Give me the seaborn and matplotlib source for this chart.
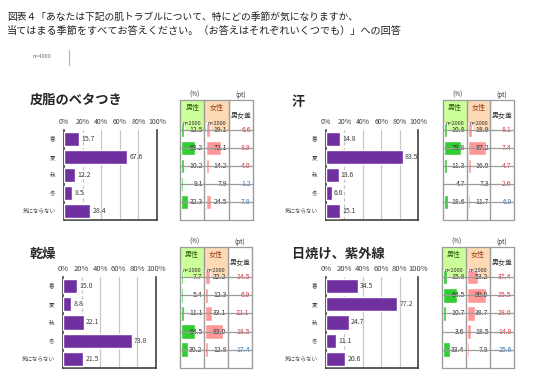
import matplotlib
matplotlib.use("Agg")
import matplotlib.pyplot as plt
from matplotlib.patches import Rectangle
import seaborn as sns

# データ
seasons = ["春", "夏", "秋", "冬", "気にならない"]
tick_values = [0, 20, 40, 60, 80, 100]
tick_labels = ["0%", "20%", "40%", "60%", "80%", "100%"]

sebum_all = [15.7, 67.6, 12.2, 8.5, 28.4]
sebum_men = [12.5, 63.2, 10.2, 9.1, 32.3]
sebum_women = [19.1, 72.1, 14.2, 7.9, 24.5]
sebum_diff = [6.6, 8.9, 4.0, 1.2, 7.8]

sweat_all = [14.8, 83.5, 13.6, 6.0, 15.1]
sweat_men = [10.8, 79.8, 11.3, 4.7, 18.6]
sweat_women = [18.9, 87.2, 16.0, 7.3, 11.7]
sweat_diff = [8.1, 7.4, 4.7, 2.6, 6.9]

dry_all = [15.0, 8.8, 22.1, 73.8, 21.5]
dry_men = [7.7, 5.4, 11.1, 64.5, 30.2]
dry_women = [22.2, 12.3, 33.1, 83.0, 12.8]
dry_diff = [14.5, 6.9, 22.1, 18.5, 17.4]

sun_all = [34.5, 77.2, 24.7, 11.1, 20.6]
sun_men = [15.8, 64.5, 10.7, 3.6, 33.4]
sun_women = [53.2, 90.0, 38.7, 18.5, 7.8]
sun_diff = [37.4, 25.5, 28.0, 14.9, 25.6]

n_men = "n=2000"
n_women = "n=2000"

W, H = 536, 386
PURPLE = "#7030a0"
GREEN = "#33cc33"
PINK = "#ff9999"
RED = "#e0303a"
BLUE = "#2e75b6"
GRID = "#9c9c9c"

sns.set_style("white")
plt.rcParams["font.family"] = ["Noto Sans CJK JP", "DejaVu Sans"]


def px_rect(x0, y0, x1, y1):
    return [x0 / W, 1 - y1 / H, (x1 - x0) / W, (y1 - y0) / H]


def draw_bars(fig, box, title, title_xy, values, tick_size):
    x0, y0, x1, y1 = box
    ax = fig.add_axes(px_rect(x0, y0, x1, y1))
    sns.barplot(x=values, y=seasons, orient="y", color=PURPLE, saturation=1,
                width=0.78, ax=ax, zorder=3)
    ax.set_xlim(0, 100)
    ax.set_ylim(4.5, -0.5)
    for g in [40, 60, 80]:
        ax.axvline(g, color="#c8c8c8", lw=0.9, zorder=1)
    ax.axvline(20, color="#c8c8c8", lw=0.9, ls=(0, (3, 2)), zorder=1)
    for i, v in enumerate(values):
        ax.text(v + 2.5, i, f"{v:.1f}", va="center", ha="left",
                fontsize=5, color="#404040", zorder=4)
    ax.xaxis.tick_top()
    ax.set_xticks(tick_values)
    ax.set_xticklabels(tick_labels, fontsize=tick_size, color="#404040")
    ax.tick_params(axis="x", length=0, pad=3)
    ax.tick_params(axis="y", length=0, labelsize=4, pad=6, colors="#404040")
    ax.set_xlabel("")
    ax.set_ylabel("")
    ax.spines["top"].set_visible(False)
    for s in ["left", "right", "bottom"]:
        ax.spines[s].set_color("#404040")
        ax.spines[s].set_linewidth(1.2)
    fig.text(title_xy[0] / W, 1 - title_xy[1] / H, title, fontsize=9.5,
             fontweight="bold", va="center", ha="left")


def draw_table(fig, box, header_top, men, women, diff):
    x0, y0, x1, y1 = box
    row_h = (y1 - y0) / 5
    hdr = (y0 - header_top) / row_h
    ax = fig.add_axes(px_rect(x0, header_top, x1, y1))
    ax.set_xlim(0, 3)
    ax.set_ylim(5, -hdr)
    ax.axis("off")
    ax.add_patch(Rectangle((0, -hdr), 1, hdr, color="#ccff99", zorder=0))
    ax.add_patch(Rectangle((1, -hdr), 1, hdr, color="#fdd9b5", zorder=0))
    ax.barh(range(5), [m / 100 * 0.88 for m in men], left=0.06,
            height=0.82, color=GREEN, zorder=2)
    ax.barh(range(5), [w / 100 * 0.88 for w in women], left=1.05,
            height=0.82, color=PINK, zorder=2)
    for i in range(5):
        ax.text(0.94, i, f"{men[i]:.1f}", ha="right", va="center",
                fontsize=5, color="#303030", zorder=3)
        ax.text(1.94, i, f"{women[i]:.1f}", ha="right", va="center",
                fontsize=5, color="#303030", zorder=3)
        c = RED if women[i] >= men[i] else BLUE
        ax.text(2.9, i, f"{diff[i]:.1f}", ha="right", va="center",
                fontsize=5, color=c, zorder=3)
    for yy in range(0, 6):
        ax.plot([0, 3], [yy, yy], color=GRID, lw=0.9, zorder=4, clip_on=False)
    ax.plot([0, 3], [-hdr, -hdr], color=GRID, lw=0.9, zorder=4, clip_on=False)
    for xx in range(0, 4):
        ax.plot([xx, xx], [-hdr, 5], color=GRID, lw=1.0, zorder=4, clip_on=False)
    ax.text(0.5, -hdr + 0.42, "男性", ha="center", va="center", fontsize=5,
            color="#2f5f10")
    ax.text(0.5, -0.38, n_men, ha="center", va="center", fontsize=4,
            color="#303030")
    ax.text(1.5, -hdr + 0.42, "女性", ha="center", va="center", fontsize=5,
            color="#9a3b1a")
    ax.text(1.5, -0.38, n_women, ha="center", va="center", fontsize=4,
            color="#303030")
    ax.text(2.5, -hdr / 2, "男女差", ha="center", va="center", fontsize=5,
            color="#303030")
    ax.text(0.6, -hdr - 0.3, "(%)", ha="center", va="center", fontsize=4.5,
            color="#303030", clip_on=False)
    ax.text(2.5, -hdr - 0.3, "(pt)", ha="center", va="center", fontsize=4.5,
            color="#303030", clip_on=False)


fig = plt.figure(figsize=(W / 100, H / 100), dpi=100)

fig.text(7 / W, 1 - 17 / H,
         "図表４「あなたは下記の肌トラブルについて、特にどの季節が気になりますか、",
         fontsize=7.0, va="center", ha="left", color="#202020")
fig.text(7 / W, 1 - 31 / H,
         "当てはまる季節をすべてお答えください。（お答えはそれぞれいくつでも）」への回答",
         fontsize=7.3, va="center", ha="left", color="#202020")
fig.text(42 / W, 1 - 57 / H, "n=4000", fontsize=4, va="center", ha="center",
         color="#707070")
fig.add_artist(plt.Line2D([69 / W, 69 / W], [1 - 50 / H, 1 - 65 / H],
                          color="#b0b0b0", lw=0.8))

draw_bars(fig, (64, 130, 157, 220), "皮脂のベタつき", (30, 100), sebum_all, 5)
draw_table(fig, (180, 130, 253, 220), 100, sebum_men, sebum_women, sebum_diff)

draw_bars(fig, (326, 130, 418, 220), "汗", (292, 102), sweat_all, 5)
draw_table(fig, (443, 130, 514, 220), 100, sweat_men, sweat_women, sweat_diff)

draw_bars(fig, (63, 277, 156, 368), "乾燥", (30, 254), dry_all, 5.5)
draw_table(fig, (180, 277, 252, 368), 247, dry_men, dry_women, dry_diff)

draw_bars(fig, (326, 277, 418, 368), "日焼け、紫外線", (292, 254), sun_all, 5.5)
draw_table(fig, (442, 277, 514, 368), 247, sun_men, sun_women, sun_diff)

fig.savefig("out.png", dpi=100)
